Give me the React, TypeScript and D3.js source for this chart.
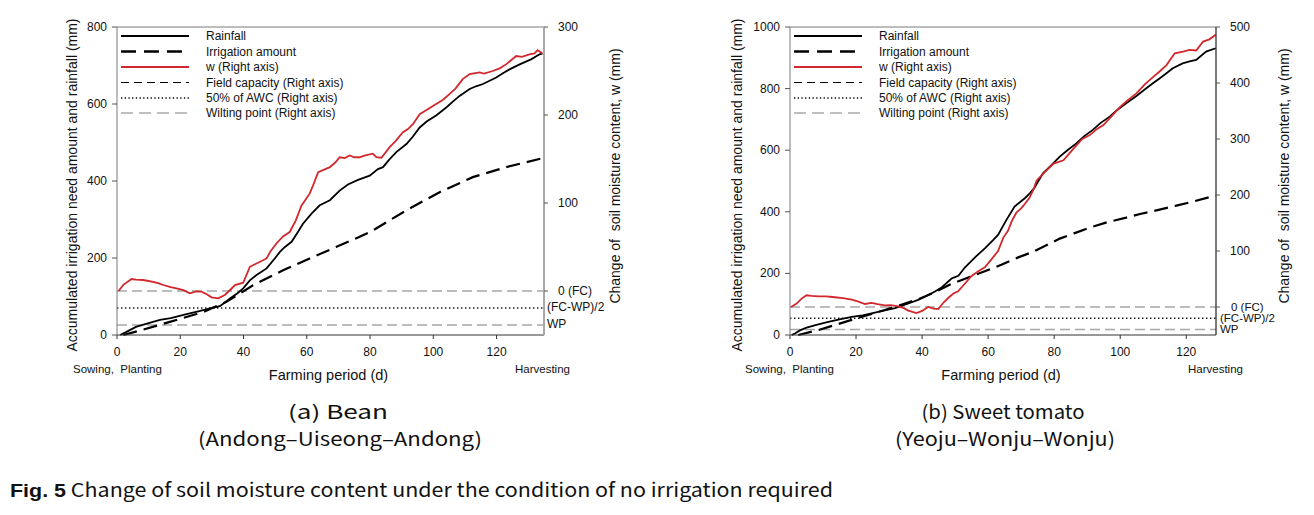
import React from "react";
import * as d3 from "d3";

type P = [number, number];

// ---------- data: (a) Bean ----------
const beanRainfall: P[] = [[1,0],[3,8],[6,21],[10,31],[13.6,39],[17,44],[22,54],[26,62],[29.4,69],[32.5,75],[34,84],[35.7,95],[38,108],[39.9,121],[42,142],[44,155],[47.3,173],[50,200],[51.5,216],[53,228],[55.2,242],[57,265],[58.8,289],[61.5,315],[64.1,337],[67.3,350],[70.4,375],[73,391],[76.2,403],[79.9,414],[82.5,431],[84.1,436],[86,455],[88.3,475],[91.5,496],[93.5,515],[95.7,539],[98,555],[100.9,570],[104.1,591],[106,605],[108.3,621],[111.5,639],[113.5,646],[115.7,652],[119.9,669],[122,680],[124.1,690],[127.3,703],[130.9,716],[133.6,729],[134.5,731]];
const beanIrrigation: P[] = [[2,0],[7.8,13],[16.7,34],[27.3,60],[34.6,86],[43,129],[52.5,168],[60.9,199],[69.4,229],[76.2,253],[81,272],[91.5,324],[102,371],[112.5,410],[123,436],[134,458]];
const beanW: P[] = [[0.5,0],[2,7],[4.6,13.6],[6,13],[8.3,12.5],[11.4,10.5],[13,9],[14.6,6.8],[17,4.5],[18.8,3],[21,1],[23,-2.6],[25,-0.5],[26.7,-0.8],[28.5,-4],[29.9,-7.2],[32,-8.3],[34.1,-4.5],[36,2],[37.3,6.8],[39.9,9.4],[42,27.5],[44.1,31.3],[47.3,37],[48.5,45],[50.4,54],[52.5,62],[54.6,67],[56.5,80],[58.3,97],[60.9,110.6],[62,120],[63.6,135],[65.5,138],[67.3,140.7],[69,146],[70.4,152],[72,151],[73.6,154],[75,152],[76.7,152],[78.5,154],[80.9,156],[82,152],[83.6,151.4],[86.2,163.4],[88,170],[90.4,180.4],[92,184],[93.6,189.9],[95.7,201],[98,206],[100.9,212.5],[103,217],[105.1,223.8],[107,230],[109.3,240.8],[111.5,246.5],[114.6,248.4],[116,247],[118.8,250],[121,253],[123.1,257.8],[126.2,267],[128,266],[130.4,269],[132,270],[133,273.7],[134.1,271],[134.5,270]];
const beanLevels = { fc: 0, awc: -19.3, wp: -38.6 };

// ---------- data: (b) Sweet tomato ----------
const tomatoRainfall: P[] = [[0.5,0],[1.5,5],[3,15],[5,24],[8,33],[11.6,43],[15,51],[18.7,59],[22,64],[24.7,70],[28,78],[31.8,87],[35,99],[38.8,114],[41,125],[43.9,141],[46,155],[49,184],[51,192],[53,220],[56.5,257],[59,281],[61.5,308],[63,325],[65.5,373],[68,417],[71.1,444],[72.6,460],[73.9,476],[76.6,525],[79,550],[81.7,579],[84,600],[86.7,622],[89,645],[91.7,666],[94,688],[96.8,709],[99,730],[101.8,752],[105,777],[107.9,801],[110,818],[111.9,833],[114,850],[115.9,866],[118.9,882],[121,888],[123,893],[126,920],[128.9,931]];
const tomatoIrrigation: P[] = [[2.5,0],[8.6,16],[18.7,49],[28.7,81],[38.8,116],[44,140],[48.9,166],[54,187],[59,207],[64,228],[69.1,252],[74,272],[81.7,313],[86,330],[91.7,352],[96,366],[101.8,381],[106,393],[111.9,407],[117,420],[122,433],[128.9,453]];
const tomatoW: P[] = [[0.3,0],[2,6],[3.5,15],[5,21],[6.5,20],[8.6,19],[11,19],[13.6,17.4],[16,16],[18.7,13.3],[20.5,10],[22.7,5.4],[24.7,7.2],[26.5,5],[28.7,3],[30.5,3.5],[32.8,1.3],[34.5,-2],[35.8,-6.5],[38.3,-10.8],[40,-7],[41.8,0],[43.5,-3],[44.9,-3.6],[46.5,8],[47.9,16],[49.5,24],[50.9,28],[53,42],[54.9,55],[57,64],[59,71],[61,85],[63,100],[64.6,124],[66,136],[67.3,155],[68.6,169],[70,176],[71.1,184],[72.5,195],[73.6,208],[74.7,226],[77,240],[79.8,256],[82.8,262],[85,277],[86.8,289],[88.5,300],[90.8,307],[93,318],[94.9,325],[97,338],[99.9,357],[102,368],[104.9,381.5],[107.5,398],[110,411],[112,421],[114,432],[116.5,453],[119,456],[121,459],[123,458],[125.1,474],[127,478],[128.9,486]];
const tomatoLevels = { fc: 0, awc: -20, wp: -40 };

// ---------- ticks & labels ----------
const xTicks = [0, 20, 40, 60, 80, 100, 120];
const beanLeftTicks = [0, 200, 400, 600, 800];
const beanRightTicks = [100, 200, 300];
const tomatoLeftTicks = [0, 200, 400, 600, 800, 1000];
const tomatoRightTicks = [100, 200, 300, 400, 500];
const legendLabels = ["Rainfall", "Irrigation amount", "w (Right axis)", "Field capacity (Right axis)", "50% of AWC (Right axis)", "Wilting point (Right axis)"];
const levelLabels = ["0 (FC)", "(FC-WP)/2", "WP"];

const FONT = "Liberation Sans, Arial, sans-serif";
const CAPFONT = "'Noto Sans CJK KR', 'DejaVu Sans', sans-serif";
const RED = "#d2282d";
const TOP = 27;
const BOTTOM = 335;

interface PanelProps {
  x0: number; x1: number; xMax: number;
  leftMax: number; leftTicks: number[];
  rightMin: number; rightMax: number; rightTicks: number[];
  rain: P[]; irr: P[]; w: P[];
  levels: { fc: number; awc: number; wp: number };
  leftTitleX: number; rightTitleX: number;
  fcLabelX: number; otherLabelX: number; levelFont: number;
  rightAxisColor: string; rightAxisWidth: number;
  sowX: number; harvX: number;
  caption1: string; caption2: string; capX: number; cap1Len: number; cap2Len: number;
}

function Panel(p: PanelProps) {
  const x = d3.scaleLinear().domain([0, p.xMax]).range([p.x0, p.x1]);
  const yL = d3.scaleLinear().domain([0, p.leftMax]).range([BOTTOM, TOP]);
  const yR = d3.scaleLinear().domain([p.rightMin, p.rightMax]).range([BOTTOM, TOP]);
  const lineL = d3.line<P>().x((d) => x(d[0])).y((d) => yL(d[1]));
  const lineR = d3.line<P>().x((d) => x(d[0])).y((d) => yR(d[1]));
  const lgX0 = p.x0 + 4;
  const lgX1 = p.x0 + 72;
  const lgTx = p.x0 + 89;
  const lgY = [36, 51.5, 67, 82.5, 98, 113];
  const levelVals = [p.levels.fc, p.levels.awc, p.levels.wp];
  const cy = (TOP + BOTTOM) / 2;
  return (
    <g>
      {/* reference lines */}
      <line x1={p.x0} x2={p.x1} y1={yR(p.levels.fc)} y2={yR(p.levels.fc)} stroke="#a8a8a8" strokeWidth={1.5} strokeDasharray="10,5" />
      <line x1={p.x0} x2={p.x1} y1={yR(p.levels.awc)} y2={yR(p.levels.awc)} stroke="#111" strokeWidth={1.4} strokeDasharray="1.4,2.6" />
      <line x1={p.x0} x2={p.x1} y1={yR(p.levels.wp)} y2={yR(p.levels.wp)} stroke="#a8a8a8" strokeWidth={1.5} strokeDasharray="10,5" />
      {/* series */}
      <path d={lineL(p.irr) || ""} fill="none" stroke="#000" strokeWidth={2.2} strokeDasharray="14,7" />
      <path d={lineL(p.rain) || ""} fill="none" stroke="#000" strokeWidth={1.8} />
      <path d={lineR(p.w) || ""} fill="none" stroke={RED} strokeWidth={1.8} />
      {/* frame */}
      <line x1={p.x0} x2={p.x1} y1={TOP} y2={TOP} stroke="#7a7a7a" strokeWidth={1} />
      <line x1={p.x0} x2={p.x1} y1={BOTTOM} y2={BOTTOM} stroke="#333" strokeWidth={1} />
      <line x1={p.x0} x2={p.x0} y1={TOP} y2={BOTTOM} stroke="#7a7a7a" strokeWidth={1} />
      <line x1={p.x1} x2={p.x1} y1={TOP} y2={BOTTOM} stroke={p.rightAxisColor} strokeWidth={p.rightAxisWidth} />
      {/* x axis */}
      {xTicks.map((t) => (
        <g key={"x" + t}>
          <line x1={x(t)} x2={x(t)} y1={BOTTOM} y2={BOTTOM + 4} stroke="#333" />
          <text x={x(t)} y={356} textAnchor="middle" fontSize={12} fontFamily={FONT} fill="#111">{t}</text>
        </g>
      ))}
      {/* left axis */}
      {p.leftTicks.map((t) => (
        <g key={"l" + t}>
          <line x1={p.x0 - 5} x2={p.x0} y1={yL(t)} y2={yL(t)} stroke="#555" />
          <text x={p.x0 - 10} y={yL(t) + 4} textAnchor="end" fontSize={12} fontFamily={FONT} fill="#111">{t}</text>
        </g>
      ))}
      {/* right axis */}
      {p.rightTicks.map((t) => (
        <g key={"r" + t}>
          <line x1={p.x1} x2={p.x1 + 4} y1={yR(t)} y2={yR(t)} stroke="#555" />
          <text x={p.x1 + 14} y={yR(t) + 4} textAnchor="start" fontSize={12} fontFamily={FONT} fill="#111">{t}</text>
        </g>
      ))}
      <line x1={p.x1} x2={p.x1 + 4} y1={yR(p.levels.fc)} y2={yR(p.levels.fc)} stroke="#555" />
      {levelLabels.map((lab, i) => (
        <text key={lab} x={i === 0 ? p.fcLabelX : p.otherLabelX} y={yR(levelVals[i]) + 3.5} fontSize={p.levelFont} fontFamily={FONT} fill="#111">{lab}</text>
      ))}
      {/* axis titles */}
      <text transform={`translate(${p.leftTitleX},${cy + 4}) rotate(-90)`} textAnchor="middle" fontSize={14} fontFamily={FONT} fill="#111">Accumulated irrigation need amount and rainfall (mm)</text>
      <text transform={`translate(${p.rightTitleX},${176}) rotate(-90)`} textAnchor="middle" fontSize={14} fontFamily={FONT} fill="#111" xmlSpace="preserve">Change of  soil moisture content, w (mm)</text>
      <text x={(p.x0 + p.x1) / 2 - 2} y={380} textAnchor="middle" fontSize={14.5} fontFamily={FONT} fill="#111">Farming period (d)</text>
      <text x={p.sowX} y={373} fontSize={11.5} fontFamily={FONT} fill="#111" xmlSpace="preserve">Sowing,  Planting</text>
      <text x={p.harvX} y={373} fontSize={11.5} fontFamily={FONT} fill="#111">Harvesting</text>
      {/* legend */}
      <line x1={lgX0} x2={lgX1} y1={lgY[0]} y2={lgY[0]} stroke="#000" strokeWidth={2.2} />
      <line x1={lgX0} x2={lgX1} y1={lgY[1]} y2={lgY[1]} stroke="#000" strokeWidth={2.4} strokeDasharray="15,8" />
      <line x1={lgX0} x2={lgX1} y1={lgY[2]} y2={lgY[2]} stroke={RED} strokeWidth={2.2} />
      <line x1={lgX0} x2={lgX1} y1={lgY[3]} y2={lgY[3]} stroke="#000" strokeWidth={1.2} strokeDasharray="8,5" />
      <line x1={lgX0} x2={lgX1} y1={lgY[4]} y2={lgY[4]} stroke="#000" strokeWidth={1.3} strokeDasharray="1.3,2.4" />
      <line x1={lgX0} x2={lgX1} y1={lgY[5]} y2={lgY[5]} stroke="#aaa" strokeWidth={1.3} strokeDasharray="12,6" />
      {legendLabels.map((lab, i) => (
        <text key={lab} x={lgTx} y={lgY[i] + 4} fontSize={12} fontFamily={FONT} fill="#111">{lab}</text>
      ))}
      {/* captions */}
      <text x={p.capX} y={419} textAnchor="middle" fontSize={19} fontFamily={CAPFONT} fill="#111" textLength={p.cap1Len} lengthAdjust="spacingAndGlyphs">{p.caption1}</text>
      <text x={p.capX + 2} y={446} textAnchor="middle" fontSize={19} fontFamily={CAPFONT} fill="#111" textLength={p.cap2Len} lengthAdjust="spacingAndGlyphs">{p.caption2}</text>
    </g>
  );
}

export default function App() {
  return (
    <svg width={1314} height={515} style={{ position: "absolute", left: 0, top: 0, background: "#fff" }}>
      <rect width={1314} height={515} fill="#fff" />
      <Panel x0={117} x1={544} xMax={135} leftMax={800} leftTicks={beanLeftTicks}
        rightMin={-50} rightMax={300} rightTicks={beanRightTicks}
        rain={beanRainfall} irr={beanIrrigation} w={beanW} levels={beanLevels}
        leftTitleX={77} rightTitleX={620} fcLabelX={558} otherLabelX={547} levelFont={12}
        rightAxisColor="#a8a8a8" rightAxisWidth={2}
        sowX={73} harvX={515}
        caption1="(a) Bean" caption2="(Andong–Uiseong–Andong)" capX={338} cap1Len={100} cap2Len={284} />
      <Panel x0={790} x1={1216} xMax={129} leftMax={1000} leftTicks={tomatoLeftTicks}
        rightMin={-50} rightMax={500} rightTicks={tomatoRightTicks}
        rain={tomatoRainfall} irr={tomatoIrrigation} w={tomatoW} levels={tomatoLevels}
        leftTitleX={742} rightTitleX={1289} fcLabelX={1231} otherLabelX={1220} levelFont={11.5}
        rightAxisColor="#222" rightAxisWidth={1.2}
        sowX={745} harvX={1188}
        caption1="(b) Sweet tomato" caption2="(Yeoju–Wonju–Wonju)" capX={1003} cap1Len={163} cap2Len={220} />
      <text x={10} y={497} fontSize={19} fontFamily={CAPFONT} fill="#111" textLength={823} lengthAdjust="spacingAndGlyphs">
        <tspan fontWeight="bold" fontFamily={FONT}>Fig. 5</tspan> Change of soil moisture content under the condition of no irrigation required
      </text>
    </svg>
  );
}
